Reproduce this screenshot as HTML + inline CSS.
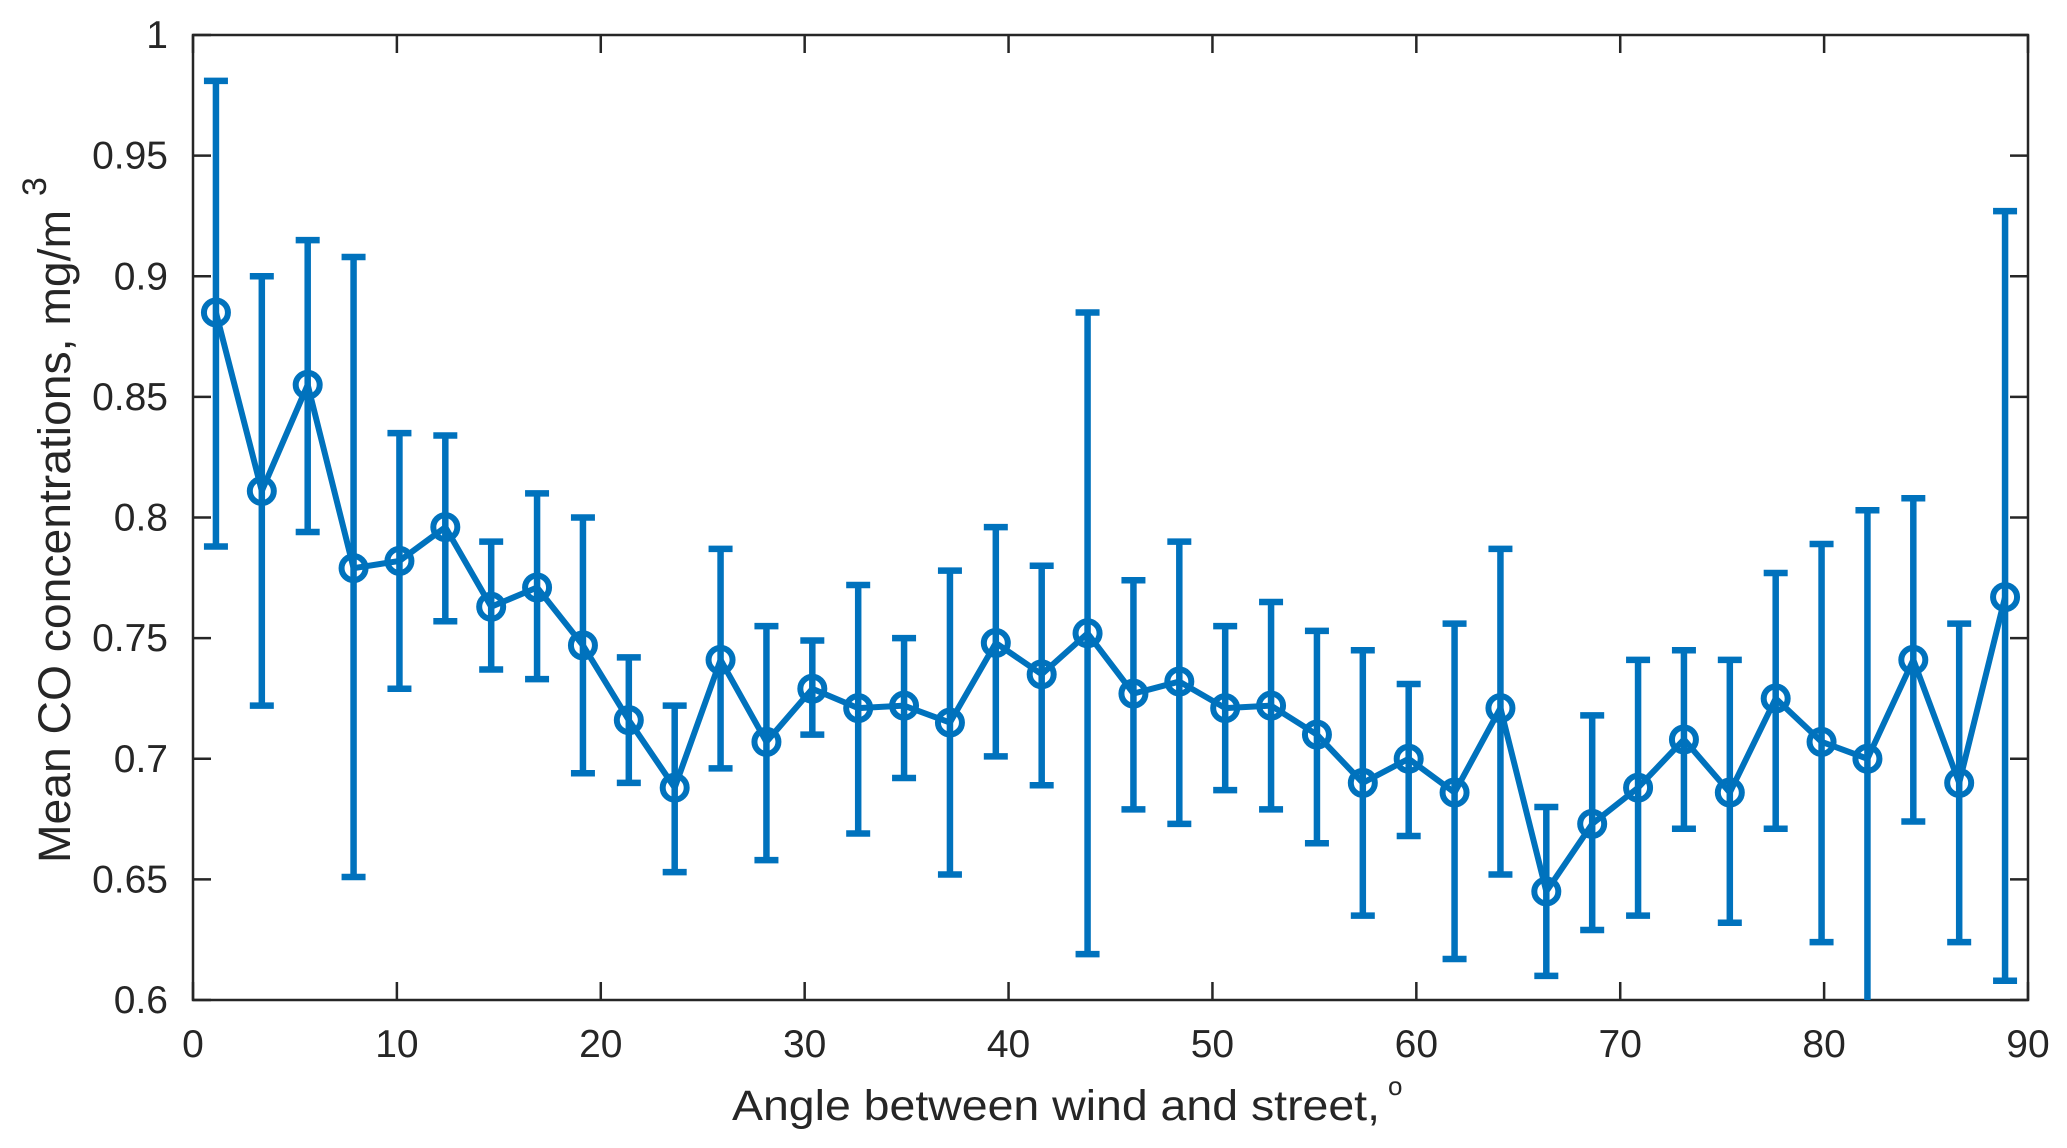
<!DOCTYPE html>
<html><head><meta charset="utf-8"><style>
html,body{margin:0;padding:0;background:#fff;}
svg{display:block;}
text{font-family:"Liberation Sans",sans-serif;fill:#262626;}
</style></head><body>
<svg id="chart" width="2067" height="1148" viewBox="0 0 2067 1148" xmlns="http://www.w3.org/2000/svg">
<rect x="0" y="0" width="2067" height="1148" fill="#fff"/>
<g id="plot"></g>
</svg>
<script>
const angles=[];for(let i=0;i<40;i++)angles.push(1.125+2.25*i);
const means=[0.885,0.811,0.855,0.779,0.782,0.796,0.763,0.771,0.747,0.716,0.688,0.741,0.707,0.729,0.721,0.722,0.715,0.748,0.735,0.752,0.727,0.732,0.721,0.722,0.710,0.690,0.700,0.686,0.721,0.645,0.673,0.688,0.708,0.686,0.725,0.707,0.700,0.741,0.690,0.767];
const lows=[0.788,0.722,0.794,0.651,0.729,0.757,0.737,0.733,0.694,0.690,0.653,0.696,0.658,0.710,0.669,0.692,0.652,0.701,0.689,0.619,0.679,0.673,0.687,0.679,0.665,0.635,0.668,0.617,0.652,0.610,0.629,0.635,0.671,0.632,0.671,0.624,0.596,0.674,0.624,0.608];
const highs=[0.981,0.900,0.915,0.908,0.835,0.834,0.790,0.810,0.800,0.742,0.722,0.787,0.755,0.749,0.772,0.750,0.778,0.796,0.780,0.885,0.774,0.790,0.755,0.765,0.753,0.745,0.731,0.756,0.787,0.680,0.718,0.741,0.745,0.741,0.777,0.789,0.803,0.808,0.756,0.927];
const xTicks=[0,10,20,30,40,50,60,70,80,90];
const yTicks=[0.6,0.65,0.7,0.75,0.8,0.85,0.9,0.95,1];
const yTickLabels=["0.6","0.65","0.7","0.75","0.8","0.85","0.9","0.95","1"];

const L=193,R=2028,T=35,B=1000;
const sx=v=>L+(v-0)/(90-0)*(R-L);
const sy=v=>B-(v-0.6)/(1-0.6)*(B-T);
const NS="http://www.w3.org/2000/svg";
const g=document.getElementById('plot');
function mk(tag,attrs,parent){const e=document.createElementNS(NS,tag);for(const k in attrs)e.setAttribute(k,attrs[k]);(parent||g).appendChild(e);return e;}
const C="#0072BD";

const defs=mk('defs',{});const cp=mk('clipPath',{id:'clip'},defs);mk('rect',{x:L,y:T,width:R-L,height:B-T},cp);

const box=mk('rect',{x:L,y:T,width:R-L,height:B-T,fill:'none',stroke:'#262626','stroke-width':2.5});



xTicks.forEach(t=>{
  const x=sx(t);
  mk('line',{x1:x,y1:B,x2:x,y2:B-18,stroke:'#262626','stroke-width':2.5});
  mk('line',{x1:x,y1:T,x2:x,y2:T+18,stroke:'#262626','stroke-width':2.5});
  const tx=mk('text',{x:x,y:1057,'text-anchor':'middle','font-size':39});
  tx.textContent=t;
  
  
});
yTicks.forEach((t,i)=>{
  const y=sy(t);
  mk('line',{x1:L,y1:y,x2:L+18,y2:y,stroke:'#262626','stroke-width':2.5});
  mk('line',{x1:R,y1:y,x2:R-18,y2:y,stroke:'#262626','stroke-width':2.5});
  const tx=mk('text',{x:168,y:y+13,'text-anchor':'end','font-size':39});
  tx.textContent=yTickLabels[i];
  
  
});

const series=mk('g',{'clip-path':'url(#clip)'});


angles.forEach((a,i)=>{
  const x=sx(a),y1=sy(lows[i]),y2=sy(highs[i]);
  const eb=mk('path',{d:`M${x},${y1}V${y2}M${x-12},${y1}H${x+12}M${x-12},${y2}H${x+12}`,stroke:C,'stroke-width':6.5,fill:'none'},series);
  
  
});
const line=mk('polyline',{points:angles.map((a,i)=>sx(a)+','+sy(means[i])).join(' '),fill:'none',stroke:C,'stroke-width':6,'stroke-linejoin':'round'},series);


angles.forEach((a,i)=>{
  const c=mk('circle',{cx:sx(a),cy:sy(means[i]),r:12,fill:'none',stroke:C,'stroke-width':6},series);
  
  
});

const xl=mk('text',{x:732,y:1120,'font-size':43,textLength:648,lengthAdjust:'spacingAndGlyphs'});
xl.textContent='Angle between wind and street,';


const xs=mk('text',{x:1388,y:1095,'font-size':26});
xs.textContent='o';


const yl=mk('text',{x:0,y:0,'font-size':45,transform:'translate(70,863) rotate(-90)',textLength:653,lengthAdjust:'spacingAndGlyphs'});
yl.textContent='Mean CO concentrations, mg/m';


const ys=mk('text',{x:0,y:0,'font-size':34,transform:'translate(46,196) rotate(-90)'});
ys.textContent='3';


</script>
</body></html>
